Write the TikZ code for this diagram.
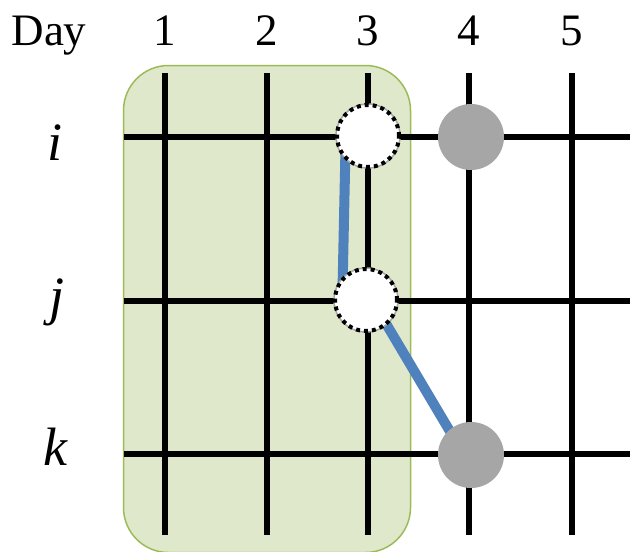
\documentclass[tikz,border=0pt]{standalone}
\usepackage{fontspec}
\setmainfont{Liberation Serif}
\definecolor{boxfill}{HTML}{DFE8CB}
\definecolor{boxline}{HTML}{9BBB59}
\definecolor{nodegray}{HTML}{A6A6A6}
\definecolor{linkblue}{HTML}{4F81BD}
\begin{document}
\begin{tikzpicture}[x=1pt,y=-1pt,
  gridline/.style={line width=6pt,black},
  lbl/.style={font=\fontsize{45}{48}\selectfont,inner sep=0pt,anchor=base},
  rowlbl/.style={font=\fontsize{54}{58}\selectfont\itshape,inner sep=0pt,anchor=base},
  link/.style={line width=10pt,linkblue},
  filled/.style={circle,fill=nodegray,minimum size=66pt,inner sep=0pt},
  hollow/.style={circle,fill=white,draw=gray!70,line width=1.5pt,minimum size=64pt,inner sep=0pt},
  dotring/.style={black,line width=4pt,dash pattern=on 4pt off 4pt}
]
\useasboundingbox (0,0) rectangle (630,552);
% shaded window
\node[draw=boxline,fill=boxfill,line width=1.5pt,rounded corners=45pt,
  minimum width=287pt,minimum height=487pt,inner sep=0pt] (win) at (267,309) {};
% header
\node[lbl] (day) at (49,45) {Day};
\foreach \n/\x in {1/165,2/267,3/368,4/469,5/572}{
  \node[lbl] (h\n) at (\x,45) {\n};
  \coordinate (top\n) at (\x,73);
  \coordinate (bot\n) at (\x,535);
}
% row labels
\node[rowlbl] (li) at (55,160) {i};
\node[rowlbl] (lj) at (57,314) {j};
\node[rowlbl] (lk) at (55,465) {k};
\foreach \r/\y in {i/137,j/301,k/454}{
  \coordinate (L\r) at (124,\y);
  \coordinate (R\r) at (630,\y);
}
% grid
\foreach \n in {1,...,5}{\draw[gridline] (top\n) -- (bot\n);}
\foreach \r in {i,j,k}{\draw[gridline] (L\r) -- (R\r);}
% node positions
\coordinate (pi3) at (368,136);
\coordinate (pj3) at (366,300);
\coordinate (pi4) at (471,137);
\coordinate (pk4) at (471,455);
% links
\draw[link] ([xshift=-22pt,yshift=12pt]pi3) -- ([xshift=-24pt,yshift=-14pt]pj3);
\draw[link] ([xshift=6pt]pj3) -- ([xshift=-7pt]pk4);
% circles
\node[filled] (i4) at (pi4) {};
\node[filled] (k4) at (pk4) {};
\node[hollow] (i3) at (pi3) {};
\node[hollow] (j3) at (pj3) {};
\draw[dotring] (i3.center) circle[radius=31pt];
\draw[dotring] (j3.center) circle[radius=31pt];
\end{tikzpicture}
\end{document}
